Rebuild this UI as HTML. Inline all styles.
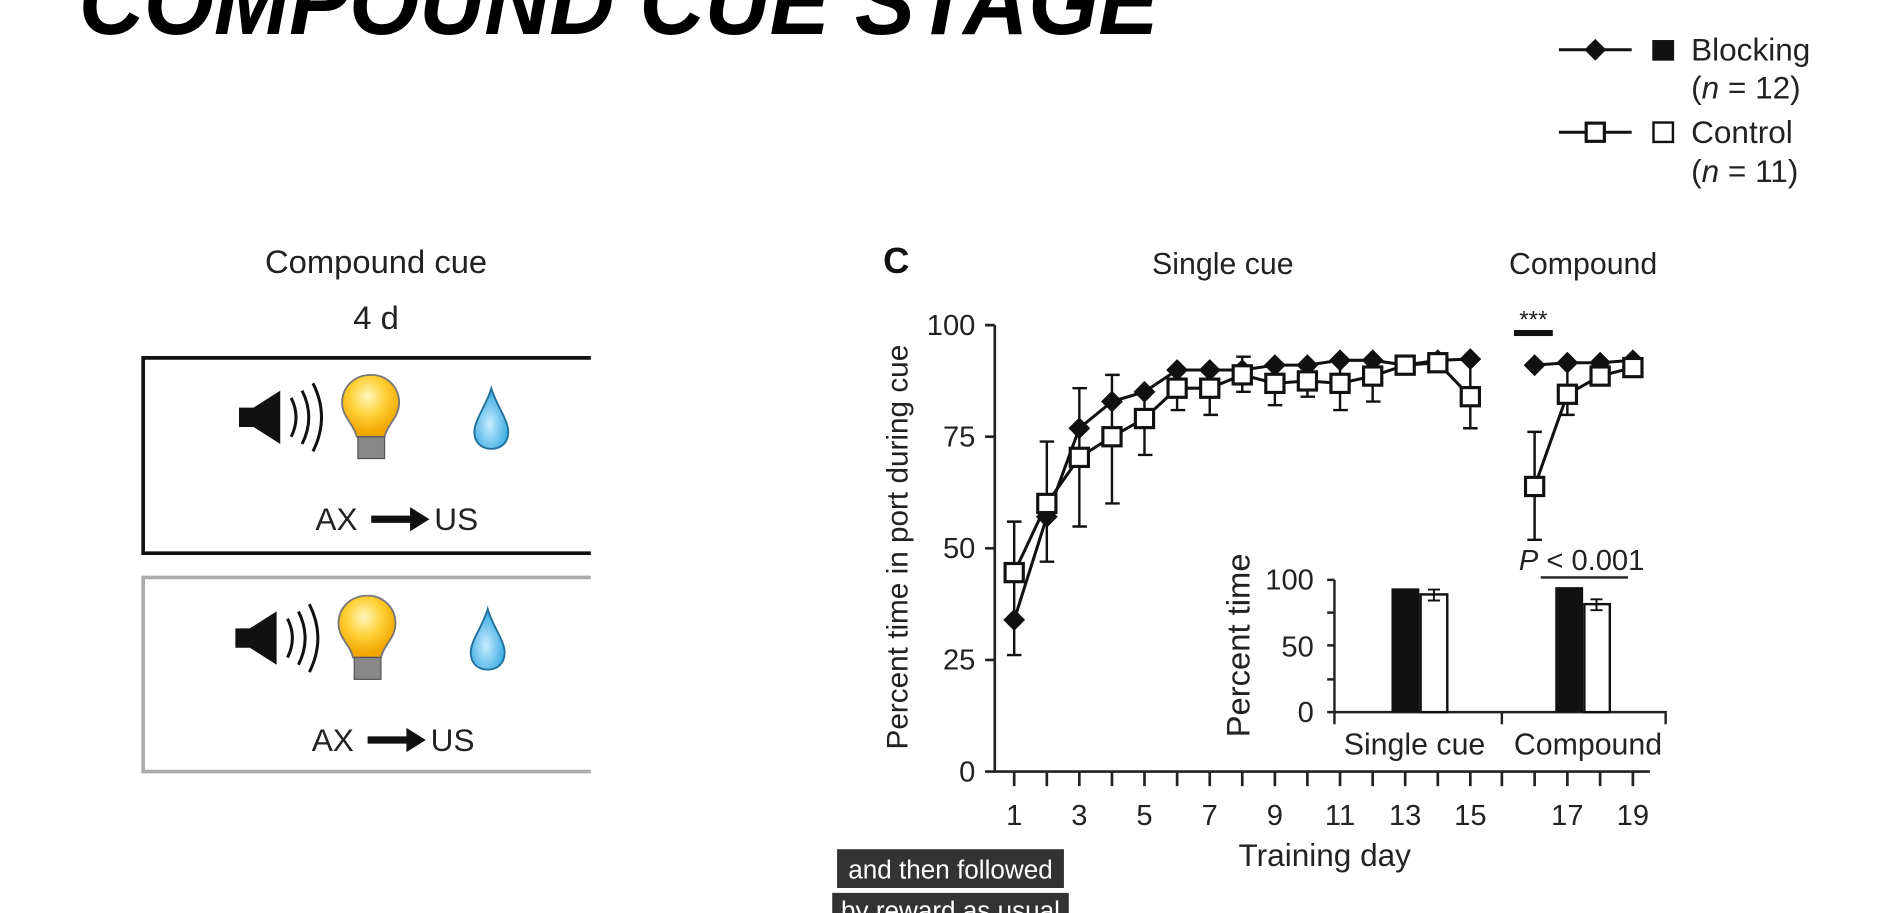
<!DOCTYPE html>
<html><head><meta charset="utf-8"><style>
html,body{margin:0;padding:0;background:#fff;overflow:hidden}
svg{display:block}
text{font-family:"Liberation Sans",sans-serif;fill:#222}
</style></head><body>
<svg width="1901" height="913" viewBox="0 0 1567 752.6" xmlns="http://www.w3.org/2000/svg">
<defs>
<g id="dm"><path d="M0,-9 L9,0 L0,9 L-9,0Z" fill="#111"/></g>
<g id="sq"><rect x="-7.5" y="-7.5" width="15" height="15" fill="#fff" stroke="#111" stroke-width="2.6"/></g>
<radialGradient id="bulb" cx="0.45" cy="0.35" r="0.6"><stop offset="0" stop-color="#fff6c0"/><stop offset="0.5" stop-color="#ffd23a"/><stop offset="1" stop-color="#f2a600"/></radialGradient>
<radialGradient id="drop" cx="0.45" cy="0.6" r="0.6"><stop offset="0" stop-color="#c9ecff"/><stop offset="1" stop-color="#2ea6e0"/></radialGradient>
<g id="icons">
 <path d="M197,336 h12 l22,-14 v44 l-22,-14 h-12z" fill="#111"/>
 <path d="M240,328 q8,16 0,32" fill="none" stroke="#111" stroke-width="2.5"/>
 <path d="M249,322 q11,22 0,44" fill="none" stroke="#111" stroke-width="2.5"/>
 <path d="M258,316 q14,28 0,56" fill="none" stroke="#111" stroke-width="2.5"/>
 <path d="M306,309 c-14,0 -24,10 -24,23 c0,12 10,18 12,28 h23 c2,-10 12,-16 12,-28 c0,-13 -10,-23 -23,-23z" fill="url(#bulb)" stroke="#777" stroke-width="1.5"/>
 <rect x="295" y="360" width="22" height="18" fill="#888" stroke="#555"/>
 <path d="M405,320 c-4,14 -14,26 -14,36 c0,9 6,14 14,14 c8,0 14,-5 14,-14 c0,-10 -10,-22 -14,-36z" fill="url(#drop)" stroke="#1f6e98" stroke-width="1.5"/>
 <text x="260" y="437" font-size="26">AX</text>
 <path d="M306,428 h34" stroke="#111" stroke-width="6"/>
 <path d="M338,418 l16,10 l-16,10z" fill="#111"/>
 <text x="358" y="437" font-size="26">US</text>
</g>
</defs>

<text x="65" y="28" font-size="78" font-weight="bold" font-style="italic" textLength="890" lengthAdjust="spacingAndGlyphs" style="fill:#000">COMPOUND CUE STAGE</text>

<line x1="1285" y1="41" x2="1345" y2="41" stroke="#111" stroke-width="2.5"/>
<use href="#dm" x="1315" y="41"/>
<rect x="1362" y="33" width="18" height="17" fill="#111"/>
<text x="1394" y="50" font-size="26">Blocking</text>
<text x="1394" y="81" font-size="26">(<tspan font-style="italic">n</tspan> = 12)</text>
<line x1="1285" y1="109" x2="1345" y2="109" stroke="#111" stroke-width="2.5"/>
<use href="#sq" x="1315" y="109"/>
<rect x="1363" y="101" width="16" height="16" fill="#fff" stroke="#111" stroke-width="2"/>
<text x="1394" y="118" font-size="26">Control</text>
<text x="1394" y="150" font-size="26">(<tspan font-style="italic">n</tspan> = 11)</text>

<text x="310" y="225" font-size="27" text-anchor="middle">Compound cue</text>
<text x="310" y="271" font-size="27" text-anchor="middle">4 d</text>
<path d="M487,295 H118 V456 H487" fill="none" stroke="#111" stroke-width="3"/>
<path d="M487,476 H118 V636 H487" fill="none" stroke="#aaa" stroke-width="3"/>
<use href="#icons"/>
<use href="#icons" transform="translate(-3,182)"/>

<text x="728" y="225" font-size="30" font-weight="bold" style="fill:#111">C</text>
<text x="1008" y="226" font-size="25" text-anchor="middle">Single cue</text>
<text x="1305" y="226" font-size="25" text-anchor="middle">Compound</text>
<text transform="translate(748,451) rotate(-90)" font-size="24.5" text-anchor="middle">Percent time in port during cue</text>
<g stroke="#222" stroke-width="2.2" fill="none">
<path d="M820,268 V636 H1360"/>
<path d="M812,268h8M812,360h8M812,452h8M812,544h8M812,636h8"/>
<path d="M836,636v12M862.9,636v12M889.7,636v12M916.6,636v12M943.4,636v12M970.3,636v12M997.2,636v12M1024,636v12M1050.9,636v12M1077.7,636v12M1104.6,636v12M1131.5,636v12M1158.3,636v12M1185.2,636v12M1212,636v12M1238,636v12M1265,636v12M1292,636v12M1319,636v12M1346,636v12"/>
</g>
<g font-size="24" text-anchor="end">
<text x="804" y="276">100</text><text x="804" y="368">75</text><text x="804" y="460">50</text><text x="804" y="552">25</text><text x="804" y="644">0</text>
</g>
<g font-size="24" text-anchor="middle">
<text x="836" y="680">1</text><text x="889.7" y="680">3</text><text x="943.4" y="680">5</text><text x="997.2" y="680">7</text><text x="1050.9" y="680">9</text><text x="1104.6" y="680">11</text><text x="1158.3" y="680">13</text><text x="1212" y="680">15</text><text x="1292" y="680">17</text><text x="1346" y="680">19</text>
<text x="1092" y="714" font-size="26">Training day</text>
</g>
<g stroke="#111" stroke-width="2" fill="none">
<path d="M836,430V540M830,430h12M830,540h12"/>
<path d="M862.9,364V463M857,364h12M857,463h12"/>
<path d="M889.7,320V434M884,320h12M884,434h12"/>
<path d="M916.6,309V415M911,309h12M911,415h12"/>
<path d="M943.4,316V375M938,375h12"/>
<path d="M970.3,300V338M965,338h12"/>
<path d="M997.2,297V342M992,342h12"/>
<path d="M1024,294V323M1019,294h12M1019,323h12"/>
<path d="M1050.9,297V334M1045,334h12"/>
<path d="M1077.7,297V327M1072,327h12"/>
<path d="M1104.6,297V338M1099,338h12"/>
<path d="M1131.5,294V331M1126,331h12"/>
<path d="M1212,296V353M1206,353h12"/>
<path d="M1265,356V445M1259,356h12M1259,445h12"/>
<path d="M1292,300V342M1286,342h12"/>
</g>
<polyline fill="none" stroke="#111" stroke-width="2.5" points="836,511 862.9,426 889.7,353 916.6,331 943.4,323 970.3,305 997.2,305 1024,305 1050.9,301 1077.7,301 1104.6,297 1131.5,297 1158.3,301 1185.2,297 1212,296"/>
<polyline fill="none" stroke="#111" stroke-width="2.5" points="1265,301 1292,299 1319,299 1346,297"/>
<polyline fill="none" stroke="#111" stroke-width="2.5" points="836,472 862.9,415 889.7,377 916.6,360 943.4,345 970.3,320 997.2,320 1024,309 1050.9,316 1077.7,314 1104.6,316 1131.5,310 1158.3,301 1185.2,299 1212,327"/>
<polyline fill="none" stroke="#111" stroke-width="2.5" points="1265,401 1292,325 1319,310 1346,303"/>
<g>
<use href="#dm" x="836" y="511"/><use href="#dm" x="862.9" y="426"/><use href="#dm" x="889.7" y="353"/><use href="#dm" x="916.6" y="331"/><use href="#dm" x="943.4" y="323"/><use href="#dm" x="970.3" y="305"/><use href="#dm" x="997.2" y="305"/><use href="#dm" x="1024" y="305"/><use href="#dm" x="1050.9" y="301"/><use href="#dm" x="1077.7" y="301"/><use href="#dm" x="1104.6" y="297"/><use href="#dm" x="1131.5" y="297"/><use href="#dm" x="1158.3" y="301"/><use href="#dm" x="1185.2" y="297"/><use href="#dm" x="1212" y="296"/>
<use href="#dm" x="1265" y="301"/><use href="#dm" x="1292" y="299"/><use href="#dm" x="1319" y="299"/><use href="#dm" x="1346" y="297"/>
<use href="#sq" x="836" y="472"/><use href="#sq" x="862.9" y="415"/><use href="#sq" x="889.7" y="377"/><use href="#sq" x="916.6" y="360"/><use href="#sq" x="943.4" y="345"/><use href="#sq" x="970.3" y="320"/><use href="#sq" x="997.2" y="320"/><use href="#sq" x="1024" y="309"/><use href="#sq" x="1050.9" y="316"/><use href="#sq" x="1077.7" y="314"/><use href="#sq" x="1104.6" y="316"/><use href="#sq" x="1131.5" y="310"/><use href="#sq" x="1158.3" y="301"/><use href="#sq" x="1185.2" y="299"/><use href="#sq" x="1212" y="327"/>
<use href="#sq" x="1265" y="401"/><use href="#sq" x="1292" y="325"/><use href="#sq" x="1319" y="310"/><use href="#sq" x="1346" y="303"/>
</g>
<text x="1264" y="270" font-size="20" text-anchor="middle">***</text>
<rect x="1248" y="272" width="32" height="5" fill="#111"/>

<g stroke="#222" stroke-width="2" fill="none">
<path d="M1100,478 V587 H1373 V597M1238,587v10M1100,587v10"/>
<path d="M1094,478h6M1094,505h6M1094,532h6M1094,560h6M1094,587h6"/>
</g>
<g font-size="24" text-anchor="end">
<text x="1083" y="486">100</text><text x="1083" y="541">50</text><text x="1083" y="595">0</text>
</g>
<text transform="translate(1030,532) rotate(-90)" font-size="27" text-anchor="middle">Percent time</text>
<rect x="1147" y="485" width="23" height="102" fill="#111"/>
<rect x="1171" y="490" width="22" height="97" fill="#fff" stroke="#111" stroke-width="2"/>
<path d="M1182,486V495M1177,486h10M1177,495h10" stroke="#111" stroke-width="1.6"/>
<rect x="1282" y="484" width="23" height="103" fill="#111"/>
<rect x="1306" y="498" width="21" height="89" fill="#fff" stroke="#111" stroke-width="2"/>
<path d="M1316,494V503M1311,494h10M1311,503h10" stroke="#111" stroke-width="1.6"/>
<text x="1166" y="622" font-size="25" text-anchor="middle">Single cue</text>
<text x="1309" y="622" font-size="25" text-anchor="middle">Compound</text>
<text x="1252" y="470" font-size="24"><tspan font-style="italic">P</tspan> &lt; 0.001</text>
<line x1="1270" y1="476" x2="1342" y2="476" stroke="#222" stroke-width="2"/>

<rect x="690" y="700" width="187" height="32" fill="#333"/>
<text x="783.5" y="724" font-size="21.5" text-anchor="middle" style="fill:#fff">and then followed</text>
<rect x="686" y="736" width="195" height="30" fill="#333"/>
<text x="783.5" y="758" font-size="21.5" text-anchor="middle" style="fill:#fff">by reward as usual</text>
</svg>
</body></html>
